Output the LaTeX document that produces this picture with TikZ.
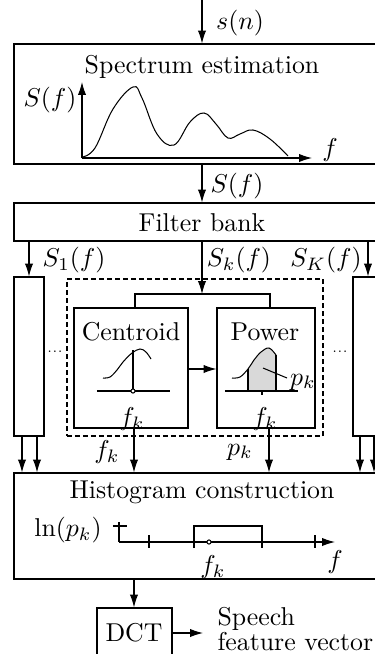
\documentclass[tikz,border=0pt]{standalone}
\usetikzlibrary{arrows.meta,fit}
\begin{document}
\tikzset{
  box/.style={draw, inner sep=0pt},
  grpbox/.style={draw, inner sep=0pt, dash pattern=on 1.8pt off 1.3pt},
  arr/.style={-{Latex[length=5pt,width=3.2pt]}},
  lab/.style={inner sep=0pt},
  shade/.style={fill=gray!30},
}
\begin{tikzpicture}[x=0.3875pt,y=-0.3875pt,line width=0.4pt]
\clip (0,0) rectangle (375,654);
% boxes
\node[box, fit={(14,44) (420,164)}] (spec) {};
\node[box, fit={(14,203) (420,241)}] (fb) {};
\node[box, fit={(14,277) (44,436)}] (col1) {};
\node[box, fit={(353,277) (420,436)}] (colK) {};
\node[grpbox, fit={(67,279) (323,436)}] (grp) {};
\node[box, fit={(74,308) (188,428)}] (cen) {};
\node[box, fit={(217,308) (315,428)}] (pow) {};
\node[box, fit={(14,473) (420,579)}] (hist) {};
\node[box, fit={(97,608) (172,700)}] (dct) {};
% texts
\node[lab] (tspec) at (202,67) {Spectrum estimation};
\node[lab] (tfb) at (202,223) {Filter bank};
\node[lab] (tcen) at (131,332) {Centroid};
\node[lab] (tpow) at (265,332) {Power};
\node[lab] (thist) at (202,492) {Histogram construction};
\node[lab] (tdct) at (134,633) {DCT};
\node[lab,anchor=west] (tsp1) at (217,619) {Speech};
\node[lab,anchor=west] (tsp2) at (217,642) {feature vector};
% input
\coordinate (in) at (202,0);
\draw[arr] (in) -- (in |- spec.north);
\node[lab] (lsn) at (240,23) {$s(n)$};
% spectrum plot
\coordinate (o) at (82,158);
\coordinate (ytop) at (82,82);
\coordinate (xend) at (312,158);
\draw[arr] (o) -- (ytop);
\draw[arr] (o) -- (xend);
\node[lab] (lSf) at (50,100) {$S(f)$};
\node[lab] (lf1) at (330,150) {$f$};
\draw plot[smooth,tension=0.65] coordinates {(82,157) (95,148) (113,109) (133,87) (142,98) (157,134) (174,145) (190,122) (204,113) (216,124) (228,138) (240,134) (253,130) (270,139) (288,156)};
% spectrum -> filter bank
\draw[arr] (spec.south -| in) -- (fb.north -| in);
\node[lab] (lSf2) at (237,186) {$S(f)$};
% filter bank outputs
\coordinate (x1) at (29,0);
\coordinate (xK) at (368,0);
\coordinate (jn) at (202,294);
\coordinate (jl) at (135,294);
\coordinate (jr) at (270,294);
\draw[arr] (fb.south -| x1) -- (col1.north -| x1);
\draw[arr] (fb.south -| xK) -- (colK.north -| xK);
\draw[arr] (fb.south -| in) -- (jn);
\draw (jl |- cen.north) -- (jl) -- (jr) -- (jr |- pow.north);
\node[lab] (lS1) at (74,260) {$S_1(f)$};
\node[lab] (lSk) at (239,260) {$S_k(f)$};
\node[lab] (lSK) at (326,260) {$S_K(f)$};
\node[lab,font=\tiny] (d1) at (55,352) {...};
\node[lab,font=\tiny] (d2) at (340,352) {...};
% centroid -> power
\coordinate (ay) at (0,369);
\draw[arr] (cen.east |- ay) -- (pow.west |- ay);
% centroid icon
\draw (97,391) -- (170,391);
\draw plot[smooth,tension=0.6] coordinates {(103,378) (110,377) (117,370) (123,362) (132,353) (140,349) (146,352) (151,359)};
\draw (133,350) -- (133,389);
\draw[fill=white] (133,391) circle[radius=0.8pt];
\node[lab] (lfk1) at (132,419) {$f_k$};
% power icon
\fill[shade] (248,391) -- plot[smooth,tension=0.6] coordinates {(248,369) (254,360) (261,352) (269,348) (276,355)} -- (276,391) -- cycle;
\draw plot[smooth,tension=0.6] coordinates {(232,378) (240,377) (248,369) (254,360) (261,352) (269,348) (276,355)};
\draw (248,369) -- (248,391);
\draw (276,355) -- (276,391);
\draw (225,391) -- (298,391);
\draw (262,391) -- (262,395);
\draw (263,368) -- (287,378);
\node[lab] (lpk1) at (303,382) {$p_k$};
\node[lab] (lfk2) at (265,419) {$f_k$};
% outputs to histogram
\coordinate (xc) at (134,0);
\coordinate (xp) at (269,0);
\draw[arr] (cen.south -| xc) -- (hist.north -| xc);
\draw[arr] (pow.south -| xp) -- (hist.north -| xp);
\node[lab] (lfk3) at (107,452) {$f_k$};
\node[lab] (lpk2) at (240,452) {$p_k$};
\coordinate (xa) at (22,0);
\coordinate (xb) at (37,0);
\coordinate (xd) at (360,0);
\coordinate (xe) at (374,0);
\draw[arr] (col1.south -| xa) -- (hist.north -| xa);
\draw[arr] (col1.south -| xb) -- (hist.north -| xb);
\draw[arr] (colK.south -| xd) -- (hist.north -| xd);
\draw[arr] (colK.south -| xe) -- (hist.north -| xe);
% histogram content
\node[lab] (lln) at (68,530) {$\ln(p_k)$};
\draw (113,526) -- (127,526);
\draw (119,522) -- (119,542);
\draw[arr] (119,542) -- (335,542);
\draw (149,535) -- (149,548);
\draw (315,535) -- (315,548);
\draw (194,548) -- (194,526) -- (262,526) -- (262,548);
\draw[fill=white] (209,542) circle[radius=0.8pt];
\node[lab] (lfk4) at (213,567) {$f_k$};
\node[lab] (lf2) at (335,562) {$f$};
% histogram -> DCT -> output
\coordinate (out) at (203,633);
\draw[arr] (hist.south -| xc) -- (dct.north -| xc);
\draw[arr] (dct.east |- out) -- (out);
\end{tikzpicture}
\end{document}
